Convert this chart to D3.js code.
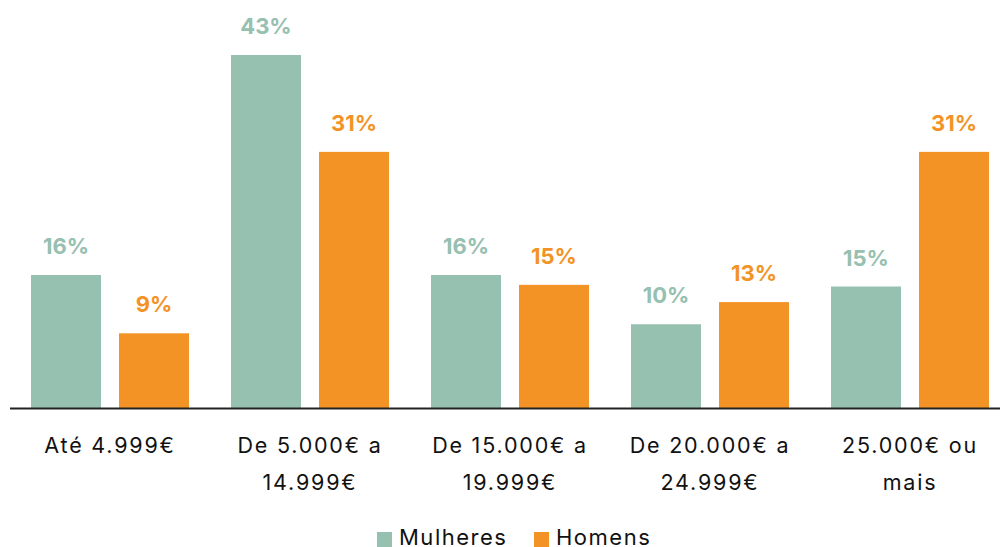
<!DOCTYPE html>
<html>
<head>
<meta charset="utf-8">
<script src="https://cdn.jsdelivr.net/npm/d3@7"></script>
<style>
  body { margin: 0; background: #fff; }
  svg { display: block; font-family: Inter, "Open Sans", sans-serif; }
</style>
</head>
<body>
<div id="chart"></div>
<script>
// income brackets, each label split into lines as in the picture
const categories = [
    ["Até 4.999€"],
    ["De 5.000€ a", "14.999€"],
    ["De 15.000€ a", "19.999€"],
    ["De 20.000€ a", "24.999€"],
    ["25.000€ ou", "mais"]
];
const seriesNames = ["Mulheres", "Homens"];
const mulheres = [16.2, 43, 16.2, 10.2, 14.8];
const homens = [9.1, 31.2, 15.0, 12.9, 31.2];
const colors = ["#96c0b0", "#f39325"];

const width = 1000, height = 547;
const baseline = 408;

const svg = d3.select("#chart").append("svg")
    .attr("width", width)
    .attr("height", height);

const keys = categories.map(c => c.join(" "));

const x0 = d3.scaleBand()
    .domain(keys)
    .range([10, 1010]);

const x1 = d3.scaleBand()
    .domain(seriesNames)
    .range([0, x0.bandwidth()])
    .paddingInner(18 / 88)
    .paddingOuter(0.2386);

const y = d3.scaleLinear()
    .domain([0, d3.max(mulheres.concat(homens))])
    .range([baseline, 55]);

const rows = keys.map((k, i) => ({ key: k, values: [mulheres[i], homens[i]] }));

const groups = svg.selectAll("g.group")
    .data(rows)
    .join("g")
    .attr("class", "group")
    .attr("transform", d => `translate(${x0(d.key)},0)`);

groups.selectAll("rect")
    .data(d => d.values.map((v, j) => ({ s: seriesNames[j], v: v, j: j })))
    .join("rect")
    .attr("x", d => x1(d.s))
    .attr("y", d => y(d.v))
    .attr("width", x1.bandwidth())
    .attr("height", d => baseline - y(d.v))
    .attr("fill", d => colors[d.j]);

groups.selectAll("text.val")
    .data(d => d.values.map((v, j) => ({ s: seriesNames[j], v: v, j: j })))
    .join("text")
    .attr("class", "val")
    .attr("x", d => x1(d.s) + x1.bandwidth() / 2)
    .attr("y", d => y(d.v) - 21)
    .attr("text-anchor", "middle")
    .attr("font-size", 22)
    .attr("font-weight", 700)
    .attr("fill", d => colors[d.j])
    .text(d => Math.round(d.v) + "%");

// axis line
svg.append("line")
    .attr("x1", 10)
    .attr("x2", 1000)
    .attr("y1", baseline + 0.5)
    .attr("y2", baseline + 0.5)
    .attr("stroke", "#222")
    .attr("stroke-width", 2);

// category labels
const catText = svg.selectAll("text.cat")
    .data(categories)
    .join("text")
    .attr("class", "cat")
    .attr("text-anchor", "middle")
    .attr("font-size", 21.5)
    .attr("letter-spacing", 1.8)
    .attr("fill", "#111");

catText.selectAll("tspan")
    .data((d, i) => d.map(line => ({ line, i })))
    .join("tspan")
    .attr("x", d => x0(keys[d.i]) + x0.bandwidth() / 2)
    .attr("y", (d, k) => 452.5 + k * 37)
    .text(d => d.line);

// legend
const legend = svg.append("g");
const legendX = [377, 534];
seriesNames.forEach((name, i) => {
    legend.append("rect")
        .attr("x", legendX[i])
        .attr("y", 532)
        .attr("width", 15)
        .attr("height", 15)
        .attr("fill", colors[i]);
    legend.append("text")
        .attr("x", legendX[i] + 22)
        .attr("y", 545)
        .attr("font-size", 22)
        .attr("letter-spacing", 1.5)
        .attr("fill", "#111")
        .text(name);
});
</script>
</body>
</html>
